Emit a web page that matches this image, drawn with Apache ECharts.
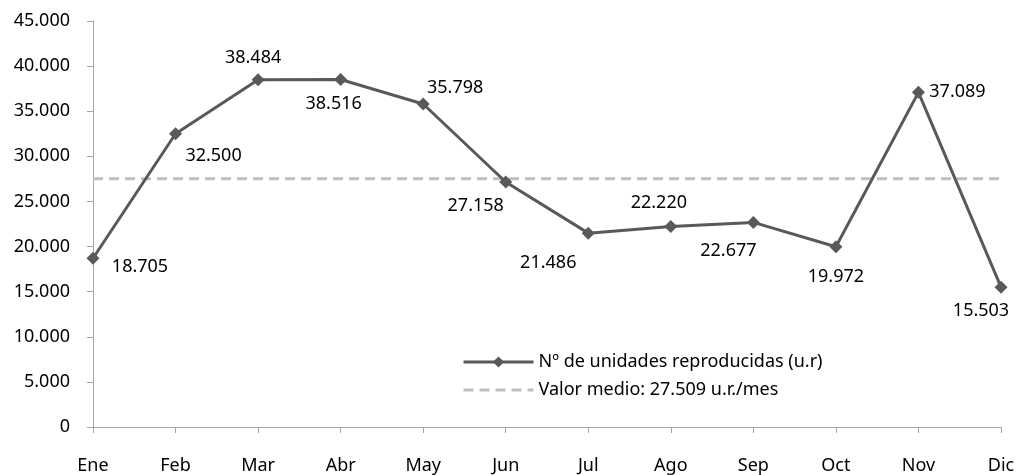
<!DOCTYPE html>
<html>
<head>
<meta charset="utf-8">
<script src="https://cdn.jsdelivr.net/npm/echarts@6/dist/echarts.min.js"></script>
<style>
  html, body { margin: 0; padding: 0; background: #fff; }
  #chart { width: 1018px; height: 475px; }
</style>
</head>
<body>
<div id="chart"></div>
<script>
const months = ['Ene', 'Feb', 'Mar', 'Abr', 'May', 'Jun', 'Jul', 'Ago', 'Sep', 'Oct', 'Nov', 'Dic']
const unidades = [18705, 32500, 38484, 38516, 35798, 27158, 21486, 22220, 22677, 19972, 37089, 15503]
const valorMedio = 27509
const mediaLine = months.map(() => valorMedio)

// label offsets (px) around each marker, as placed in the original
const labelOffsets = [
  [47, 9], [38, 22], [-5, -22], [-7, 24], [32, -16], [-30, 24],
  [-40, 30], [-12, -24], [-25, 28], [0, 30], [39, 0], [-20, 24],
]

const fmt = (v) => String(v).replace(/\B(?=(\d{3})+(?!\d))/g, '.')
const FONT = 'Noto Sans'
const FS = 18

const chart = echarts.init(document.getElementById('chart'), null, { renderer: 'canvas' })
chart.setOption({
  animation: false,
  textStyle: { fontFamily: FONT },
  grid: { left: 93, right: 17, top: 21, bottom: 47 },
  legend: {
    orient: 'vertical',
    left: 457,
    top: 348,
    itemWidth: 70,
    itemHeight: 14,
    itemGap: 10,
    textStyle: { fontFamily: FONT, fontSize: FS, color: '#000' },
    data: [
      { name: 'Nº de unidades reproducidas (u.r)', lineStyle: { width: 3 } },
      { name: 'Valor medio: 27.509 u.r./mes', itemStyle: { opacity: 0 }, lineStyle: { width: 3 } },
    ],
  },
  xAxis: {
    type: 'category',
    data: months,
    boundaryGap: false,
    axisLine: { lineStyle: { color: '#a6a6a6', width: 1 } },
    axisTick: { length: 6, lineStyle: { color: '#a6a6a6' } },
    axisLabel: { color: '#000', fontSize: FS, margin: 30, fontFamily: FONT },
  },
  yAxis: {
    type: 'value',
    min: 0,
    max: 45000,
    interval: 5000,
    axisLine: { show: true, lineStyle: { color: '#a6a6a6', width: 1 } },
    axisTick: { show: true, length: 6, lineStyle: { color: '#a6a6a6' } },
    splitLine: { show: false },
    axisLabel: { color: '#000', fontSize: FS, margin: 23, fontFamily: FONT, formatter: fmt },
  },
  series: [
    {
      name: 'Nº de unidades reproducidas (u.r)',
      type: 'line',
      data: unidades.map((v, i) => ({
        value: v,
        label: { offset: labelOffsets[i] },
      })),
      symbol: 'diamond',
      symbolSize: 13,
      lineStyle: { color: '#595959', width: 3 },
      itemStyle: { color: '#595959' },
      label: {
        show: true,
        position: 'inside',
        color: '#000',
        fontSize: FS,
        fontFamily: FONT,
        formatter: (p) => fmt(p.value),
      },
      z: 3,
    },
    {
      name: 'Valor medio: 27.509 u.r./mes',
      type: 'line',
      data: mediaLine,
      symbol: 'none',
      lineStyle: { color: '#bfbfbf', width: 3, type: [10, 6] },
      itemStyle: { color: '#bfbfbf' },
      z: 2,
    },
  ],
})
</script>
</body>
</html>
